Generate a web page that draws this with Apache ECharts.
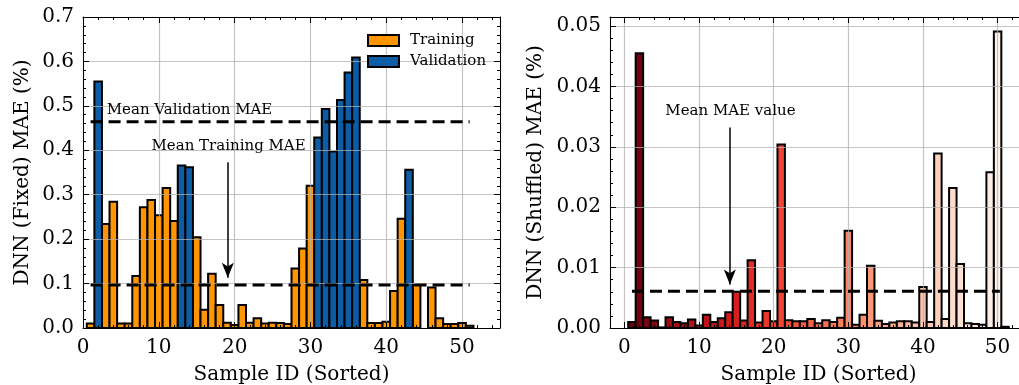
<!DOCTYPE html>
<html lang="en">
<head>
<meta charset="utf-8">
<script src="https://cdn.jsdelivr.net/npm/echarts@6/dist/echarts.min.js"></script>
<style>
    html, body { margin: 0; padding: 0; background: #fff; }
    #chart { width: 1019px; height: 385px; }
</style>
</head>
<body>
<div id="chart"></div>
<script>
    // sample ids 1..51 (sorted)
    var sampleIds = [1, 2, 3, 4, 5, 6, 7, 8, 9, 10, 11, 12, 13, 14, 15, 16, 17, 18, 19, 20,
        21, 22, 23, 24, 25, 26, 27, 28, 29, 30, 31, 32, 33, 34, 35, 36, 37, 38, 39, 40,
        41, 42, 43, 44, 45, 46, 47, 48, 49, 50, 51];

    // left panel: DNN (Fixed) MAE, T = training, V = validation
    var fixedMae = [0.010, 0.555, 0.234, 0.284, 0.010, 0.010, 0.117, 0.272, 0.288, 0.254,
        0.315, 0.241, 0.366, 0.362, 0.204, 0.041, 0.122, 0.052, 0.012, 0.007,
        0.052, 0.012, 0.022, 0.010, 0.012, 0.011, 0.009, 0.134, 0.179, 0.320,
        0.429, 0.493, 0.397, 0.513, 0.575, 0.609, 0.108, 0.011, 0.011, 0.014,
        0.083, 0.246, 0.356, 0.097, null, 0.091, 0.022, 0.009, 0.009, 0.011, 0.005];
    var fixedSet = ['T', 'V', 'T', 'T', 'T', 'T', 'T', 'T', 'T', 'T',
        'T', 'T', 'V', 'V', 'T', 'T', 'T', 'T', 'T', 'T',
        'T', 'T', 'T', 'T', 'T', 'T', 'T', 'T', 'T', 'T',
        'V', 'V', 'V', 'V', 'V', 'V', 'T', 'T', 'T', 'T',
        'T', 'T', 'V', 'T', '-', 'T', 'T', 'T', 'T', 'T', 'T'];

    // right panel: DNN (Shuffled) MAE
    var shuffledMae = [0.0010, 0.0455, 0.0018, 0.00126, 0.0001, 0.0018, 0.0010, 0.0008, 0.0014, 0.0004,
        0.0022, 0.0010, 0.0016, 0.0026, 0.0060, 0.00125, 0.0112, 0.0009, 0.0028, 0.0011,
        0.0304, 0.0013, 0.0011, 0.0011, 0.0015, 0.0008, 0.0013, 0.0010, 0.0017, 0.0161,
        0.00055, 0.0022, 0.0103, 0.0012, 0.00066, 0.0009, 0.0011, 0.0011, 0.0009, 0.0068,
        0.0010, 0.0289, 0.0015, 0.0232, 0.0106, 0.0008, 0.00066, 0.00055, 0.0258, 0.0491, 0.0002];

    var meanTraining = 0.097;
    var meanValidation = 0.464;
    var meanShuffled = 0.00607;

    var serif = 'DejaVu Serif';
    var gridColor = 'rgba(176,176,176,0.75)';

    // Reds colormap, reversed (dark -> light)
    var redsR = ['#67000d', '#a50f15', '#cb181d', '#ef3b2c', '#fb6a4a', '#fc9272', '#fcbba1', '#fee0d2', '#fff5f0'];
    function hex2rgb(h) {
        return [parseInt(h.substr(1, 2), 16), parseInt(h.substr(3, 2), 16), parseInt(h.substr(5, 2), 16)];
    }
    function cmap(t) {
        var p = t * (redsR.length - 1);
        var i = Math.min(Math.floor(p), redsR.length - 2);
        var f = p - i;
        var a = hex2rgb(redsR[i]), b = hex2rgb(redsR[i + 1]);
        return 'rgb(' + [0, 1, 2].map(function (k) { return Math.round(a[k] + (b[k] - a[k]) * f); }).join(',') + ')';
    }

    var trainData = [], valData = [], shufData = [];
    sampleIds.forEach(function (id, i) {
        if (fixedSet[i] === 'T') trainData.push([id, fixedMae[i]]);
        if (fixedSet[i] === 'V') valData.push([id, fixedMae[i]]);
        shufData.push([id, shuffledMae[i], i / (sampleIds.length - 1)]);
    });

    // bars of width 1 (in data units), edges touching, like plt.bar(width=1)
    function barItem(colorOf) {
        return function (params, api) {
            var x = api.value(0), y = api.value(1);
            var p0 = api.coord([x - 0.5, 0]);
            var p1 = api.coord([x + 0.5, y]);
            return {
                type: 'rect',
                shape: {x: p0[0], y: p1[1], width: p1[0] - p0[0], height: p0[1] - p1[1]},
                style: {fill: colorOf(api), stroke: '#000', lineWidth: 2}
            };
        };
    }

    // x axes: when min is not a multiple of 10, let echarts pick the (nice) interval itself
    function xStep(min) {
        return min === 0 ? {interval: 10} : {splitNumber: 5};
    }
    function mainX(grid, min, max, name) {
        return Object.assign({
            type: 'value', gridIndex: grid, position: 'bottom', min: min, max: max, z: 3,
            axisLine: {show: true, onZero: false, lineStyle: {color: '#000', width: 1}},
            axisTick: {show: true, inside: true, length: 6, lineStyle: {color: '#000'}},
            minorTick: {show: true, splitNumber: 5, length: 3, lineStyle: {color: '#000'}},
            splitLine: {show: true, lineStyle: {color: gridColor, width: 1.2}},
            axisLabel: {
                color: '#000', fontFamily: serif, fontSize: 20, margin: 10,
                showMinLabel: min === 0, showMaxLabel: false,
                formatter: function (v) { return Math.round(v); }
            },
            name: name, nameLocation: 'middle', nameGap: 37,
            nameTextStyle: {color: '#000', fontFamily: serif, fontSize: 20}
        }, xStep(min));
    }
    function mirrorX(grid, min, max) {
        return Object.assign({
            type: 'value', gridIndex: grid, position: 'top', min: min, max: max, z: 3,
            axisLine: {show: true, onZero: false, lineStyle: {color: '#000', width: 1}},
            axisTick: {show: true, inside: true, length: 6, lineStyle: {color: '#000'}},
            minorTick: {show: true, splitNumber: 5, length: 3, lineStyle: {color: '#000'}},
            splitLine: {show: false}, axisLabel: {show: false}
        }, xStep(min));
    }
    function mainY(grid, max, interval, digits, showMax, name, gap) {
        return {
            type: 'value', gridIndex: grid, position: 'left', min: 0, max: max, interval: interval, z: 3,
            axisLine: {show: true, onZero: false, lineStyle: {color: '#000', width: 1}},
            axisTick: {show: true, inside: true, length: 6, lineStyle: {color: '#000'}},
            minorTick: {show: true, splitNumber: 5, length: 3, lineStyle: {color: '#000'}},
            splitLine: {show: true, lineStyle: {color: gridColor, width: 1.2}},
            axisLabel: {
                color: '#000', fontFamily: serif, fontSize: 20, margin: 9, showMaxLabel: showMax,
                formatter: function (v) { return v.toFixed(digits); }
            },
            name: name, nameLocation: 'middle', nameGap: gap, nameRotate: 90,
            nameTextStyle: {color: '#000', fontFamily: serif, fontSize: 20}
        };
    }
    function mirrorY(grid, max, interval) {
        return {
            type: 'value', gridIndex: grid, position: 'right', min: 0, max: max, interval: interval, z: 3,
            axisLine: {show: true, onZero: false, lineStyle: {color: '#000', width: 1}},
            axisTick: {show: true, inside: true, length: 6, lineStyle: {color: '#000'}},
            minorTick: {show: true, splitNumber: 5, length: 3, lineStyle: {color: '#000'}},
            splitLine: {show: false}, axisLabel: {show: false}
        };
    }

    function note(x, y, text) {
        return {
            coord: [x, y], symbol: 'rect', symbolSize: 1,
            itemStyle: {color: 'rgba(0,0,0,0)'},
            label: {show: true, position: 'inside', formatter: text, color: '#000', fontFamily: serif, fontSize: 15}
        };
    }
    function arrow(x, y0, y1) {
        return [
            {coord: [x, y0], symbol: 'none', lineStyle: {type: 'solid', width: 1.5, color: '#000'}},
            {coord: [x, y1], symbol: 'arrow', symbolSize: [9, 15], lineStyle: {type: 'solid', width: 1.5, color: '#000'}}
        ];
    }
    // dashed horizontal mean line as a plain line series
    function meanLine(xi, yi, x0, x1, y, marks) {
        return {
            type: 'line', xAxisIndex: xi, yAxisIndex: yi, z: 4,
            data: [[x0, y], [x1, y]], showSymbol: false, symbol: 'none', silent: true,
            lineStyle: {type: [12, 6], width: 3, color: '#000'},
            markLine: {silent: true, symbol: 'none', label: {show: false}, data: marks.arrows},
            markPoint: {silent: true, data: marks.notes}
        };
    }

    var myChart = echarts.init(document.getElementById('chart'), null, {renderer: 'canvas'});
    var option = {
        animation: false,
        backgroundColor: '#fff',
        grid: [
            {left: 83, top: 17, width: 417, height: 311, outerBoundsMode: 'none', containLabel: false},
            {left: 610, top: 17, width: 417, height: 311, outerBoundsMode: 'none', containLabel: false}
        ],
        legend: {
            left: 362, top: 28, orient: 'vertical', itemWidth: 31, itemHeight: 11, itemGap: 6,
            icon: 'rect',
            itemStyle: {borderColor: '#000', borderWidth: 2},
            textStyle: {color: '#000', fontFamily: serif, fontSize: 15, padding: [0, 0, 0, 6]},
            data: ['Training', 'Validation']
        },
        xAxis: [
            mainX(0, 0, 55, 'Sample ID (Sorted)'),
            mirrorX(0, 0, 55),
            mainX(1, -1.94, 53.94, 'Sample ID (Sorted)'),
            mirrorX(1, -1.94, 53.94)
        ],
        yAxis: [
            mainY(0, 0.7, 0.1, 1, true, 'DNN (Fixed) MAE (%)', 50),
            mirrorY(0, 0.7, 0.1),
            mainY(1, 0.0515, 0.01, 2, false, 'DNN (Shuffled) MAE (%)', 64),
            mirrorY(1, 0.0515, 0.01)
        ],
        series: [
            {
                name: 'Training', type: 'custom', xAxisIndex: 0, yAxisIndex: 0,
                itemStyle: {color: '#FF9500'},
                encode: {x: 0, y: 1},
                renderItem: barItem(function () { return '#FF9500'; }),
                data: trainData
            },
            {
                name: 'Validation', type: 'custom', xAxisIndex: 0, yAxisIndex: 0,
                itemStyle: {color: '#0C5DA5'},
                encode: {x: 0, y: 1},
                renderItem: barItem(function () { return '#0C5DA5'; }),
                data: valData
            },
            {
                name: 'Shuffled', type: 'custom', xAxisIndex: 2, yAxisIndex: 2,
                encode: {x: 0, y: 1},
                renderItem: barItem(function (api) { return cmap(api.value(2)); }),
                data: shufData
            },
            meanLine(0, 0, 1, 51, meanValidation, {
                arrows: [],
                notes: [note(14.05, 0.49, 'Mean Validation MAE')]
            }),
            meanLine(0, 0, 1, 51, meanTraining, {
                arrows: [arrow(19.1, 0.373, 0.113)],
                notes: [note(19.2, 0.41, 'Mean Training MAE')]
            }),
            meanLine(2, 2, 1, 50.3, meanShuffled, {
                arrows: [arrow(14.12, 0.0332, 0.0072)],
                notes: [note(14.2, 0.0359, 'Mean MAE value')]
            })
        ]
    };

    myChart.setOption(option);
</script>
</body>
</html>
